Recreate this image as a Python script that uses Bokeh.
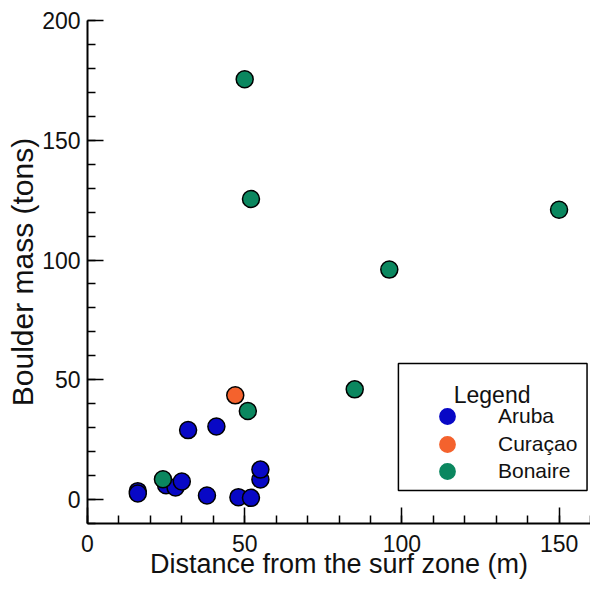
from bokeh.plotting import figure
from bokeh.models import (Range1d, FixedTicker, Legend, LegendItem, BoxAnnotation, Label)
from bokeh.embed import file_html
from bokeh.resources import INLINE

# Data (distance from surf zone in m, boulder mass in tons)
aruba_x = [16, 16, 25, 28, 30, 32, 38, 41, 48, 52, 55, 55]
aruba_y = [3.5, 2.5, 6.0, 5.0, 7.5, 29, 1.7, 30.5, 1.0, 0.7, 8.4, 12.5]
curacao_x = [47]
curacao_y = [43.5]
bonaire_x = [24, 50, 51, 52, 85, 96, 150]
bonaire_y = [8.5, 175.5, 37, 125.5, 46, 96, 121]

series_names = ["Aruba", "Curaçao", "Bonaire"]
colors = ["#0808c6", "#f4622d", "#0b875f"]

x_major = [0, 50, 100, 150]
x_minor = list(range(0, 170, 10))
y_major = [0, 50, 100, 150, 200]
y_minor = list(range(-10, 210, 10))

FONT = "Liberation Sans"
NAN = float("nan")

p = figure(width=590, height=592, output_backend="svg", toolbar_location=None,
           x_range=Range1d(0, 160), y_range=Range1d(-10, 200),
           min_border_left=87, min_border_right=0, min_border_top=20, min_border_bottom=69)
p.outline_line_color = None
p.xgrid.visible = False
p.ygrid.visible = False
p.background_fill_color = "white"
p.border_fill_color = "white"

p.xaxis.ticker = FixedTicker(ticks=x_major, minor_ticks=x_minor)
p.yaxis.ticker = FixedTicker(ticks=y_major, minor_ticks=y_minor)
for ax in (p.xaxis[0], p.yaxis[0]):
    ax.axis_line_width = 2
    ax.axis_line_color = "black"
    ax.major_tick_in = 16
    ax.major_tick_out = 0
    ax.minor_tick_in = 8
    ax.minor_tick_out = 0
    ax.major_tick_line_width = 1.5
    ax.minor_tick_line_width = 1.5
    ax.major_tick_line_color = "black"
    ax.minor_tick_line_color = "black"
    ax.major_label_text_font = FONT
    ax.major_label_text_font_size = "23px"
    ax.major_label_text_color = "#111111"
    ax.axis_label_text_font = FONT
    ax.axis_label_text_font_style = "normal"
    ax.axis_label_text_color = "#111111"

p.xaxis.axis_label = "Distance from the surf zone (m)"
p.yaxis.axis_label = "Boulder mass (tons)"
p.xaxis.axis_label_text_font_size = "27px"
p.yaxis.axis_label_text_font_size = "30px"
p.xaxis.major_label_standoff = 11
p.yaxis.major_label_standoff = 7
p.xaxis.axis_label_standoff = -6
p.yaxis.axis_label_standoff = 0

data = [(aruba_x, aruba_y), (curacao_x, curacao_y), (bonaire_x, bonaire_y)]
for (xs, ys), c in zip(data, colors):
    p.scatter(x=xs, y=ys, size=17, fill_color=c, line_color="black", line_width=1.5)

# Legend frame and title
box = BoxAnnotation(left=98.9, right=158.9, top=56.8, bottom=3.8,
                    fill_color="white", fill_alpha=1.0, line_color="black",
                    line_alpha=1.0, line_width=1.5, level="annotation")
p.add_layout(box)
p.add_layout(Label(x=128.7, y=43.7, text="Legend", text_align="center",
                   text_baseline="alphabetic", text_font=FONT, text_font_size="23px",
                   text_color="#111111"))

# One single-row legend per series (legend-only swatches without outline)
row_offsets = [86, 58, 31]
for name, c, yoff in zip(series_names, colors, row_offsets):
    r = p.scatter(x=[NAN], y=[NAN], size=17, fill_color=c, line_color=None)
    leg = Legend(items=[LegendItem(label=name, renderers=[r])], location=(339, yoff),
                 orientation="vertical", padding=0, spacing=0,
                 glyph_width=42, glyph_height=42, label_standoff=30,
                 label_text_font=FONT, label_text_font_size="21px",
                 label_text_color="#111111", border_line_color=None,
                 background_fill_alpha=0.0, margin=0)
    p.add_layout(leg, "center")

open("out.html", "w").write(file_html(p, INLINE))
